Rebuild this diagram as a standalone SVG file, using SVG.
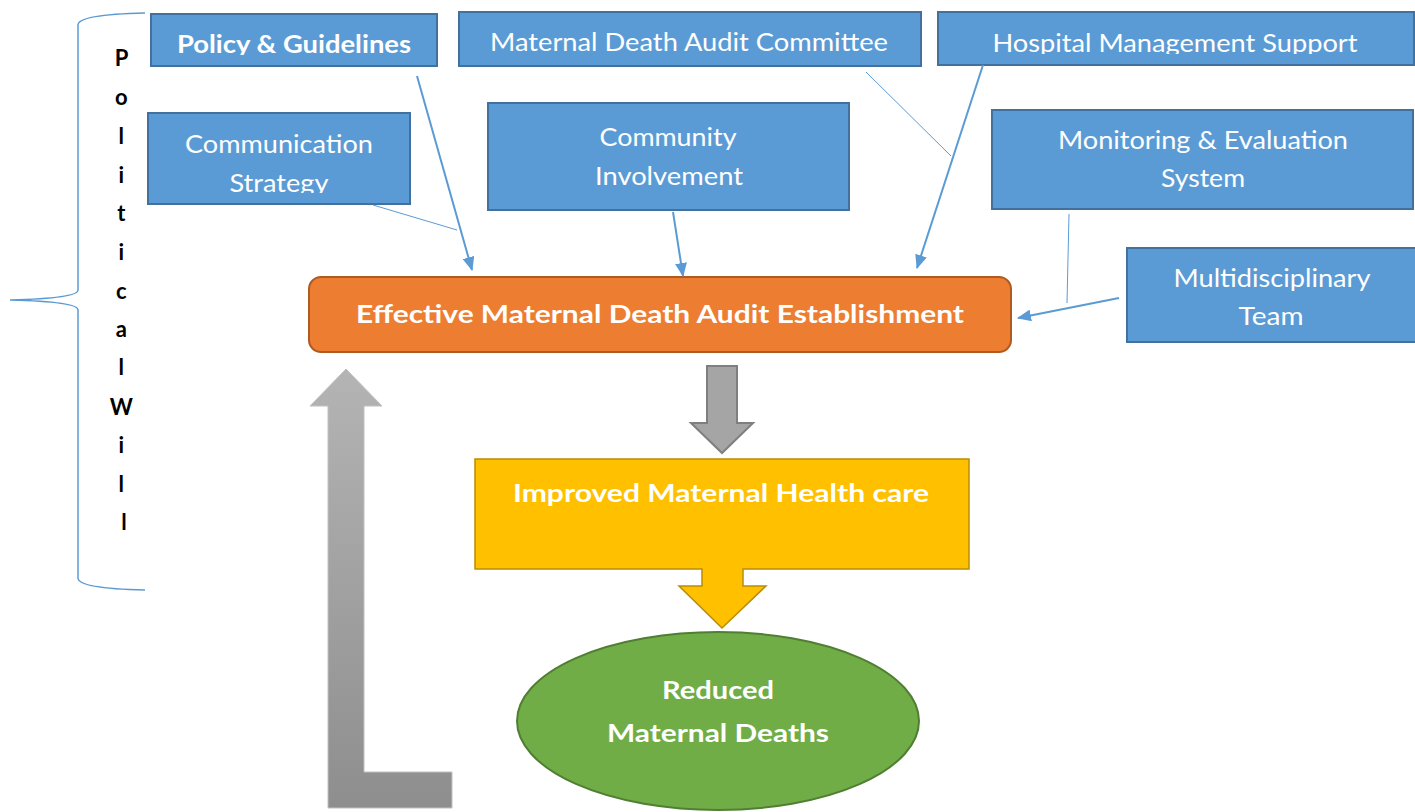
<svg xmlns="http://www.w3.org/2000/svg" width="1415" height="812" viewBox="0 0 1415 812">
  <style>
    .box { fill: #5B9BD5; stroke: #41719C; stroke-width: 2; }
    .lbl { font-family: Lato, "Open Sans", "Liberation Sans", sans-serif; fill: #ffffff; text-anchor: middle; font-size: 25px; }
    .bold { font-weight: bold; }
    .link { stroke: #5B9BD5; stroke-width: 2; fill: none; }
    .thin { stroke: #5B9BD5; stroke-width: 1; fill: none; }
    .side { font-family: Lato, "Open Sans", "Liberation Sans", sans-serif; font-weight: bold; font-size: 22px; fill: #000000; text-anchor: middle; }
  </style>
  <defs>
    <marker id="arrow" markerUnits="userSpaceOnUse" markerWidth="14" markerHeight="12" refX="13" refY="6" orient="auto">
      <path d="M0,0 L14,6 L0,12 Z" fill="#5B9BD5"/>
    </marker>
    <linearGradient id="grey" x1="0" y1="0" x2="0" y2="1">
      <stop offset="0" stop-color="#B4B4B4"/>
      <stop offset="1" stop-color="#8E8E8E"/>
    </linearGradient>
    <clipPath id="clipPolicy"><rect x="151" y="14" width="286" height="41"/></clipPath>
    <clipPath id="clipHospital"><rect x="938" y="12" width="476" height="42"/></clipPath>
    <clipPath id="clipComm"><rect x="148" y="113" width="262" height="80"/></clipPath>
  </defs>

  <rect width="1415" height="812" fill="#ffffff"/>

  <!-- Political will brace and vertical caption -->
  <g id="political-will">
    <path d="M145,13 C100,14 78,18 78,25 V290 C78,296 50,299 10,300 C50,301 78,304 78,310 V578 C78,585 100,589 145,590" fill="none" stroke="#5B9BD5" stroke-width="1.5"/>
    <text class="side">
      <tspan x="124" y="66">P</tspan>
      <tspan x="124" y="105">o</tspan>
      <tspan x="124" y="144">l</tspan>
      <tspan x="124" y="183">i</tspan>
      <tspan x="124" y="221">t</tspan>
      <tspan x="124" y="260">i</tspan>
      <tspan x="124" y="299">c</tspan>
      <tspan x="124" y="337">a</tspan>
      <tspan x="124" y="375">l</tspan>
      <tspan x="124" y="415">W</tspan>
      <tspan x="124" y="453">i</tspan>
      <tspan x="124" y="492">l</tspan>
      <tspan x="124" y="530">l</tspan>
    </text>
  </g>

  <!-- Contributing factors -->
  <g id="policy">
    <rect class="box" x="151" y="14" width="286" height="52"/>
    <text class="lbl bold" x="294" y="53" font-size="26" textLength="234" lengthAdjust="spacingAndGlyphs" clip-path="url(#clipPolicy)">Policy &amp; Guidelines</text>
  </g>
  <g id="committee">
    <rect class="box" x="459" y="12" width="462" height="54"/>
    <text class="lbl" x="689" y="51" textLength="398" lengthAdjust="spacingAndGlyphs">Maternal Death Audit Committee</text>
  </g>
  <g id="hospital">
    <rect class="box" x="938" y="12" width="476" height="53"/>
    <text class="lbl" x="1175" y="52" textLength="365" lengthAdjust="spacingAndGlyphs" clip-path="url(#clipHospital)">Hospital Management Support</text>
  </g>
  <g id="communication">
    <rect class="box" x="148" y="113" width="262" height="91"/>
    <g clip-path="url(#clipComm)">
      <text class="lbl" x="279" y="153" textLength="188" lengthAdjust="spacingAndGlyphs">Communication</text>
      <text class="lbl" x="279" y="192" textLength="99" lengthAdjust="spacingAndGlyphs">Strategy</text>
    </g>
  </g>
  <g id="community">
    <rect class="box" x="488" y="103" width="361" height="107"/>
    <text class="lbl" x="668" y="146" textLength="137" lengthAdjust="spacingAndGlyphs">Community</text>
    <text class="lbl" x="669" y="185" textLength="148" lengthAdjust="spacingAndGlyphs">Involvement</text>
  </g>
  <g id="monitoring">
    <rect class="box" x="992" y="110" width="421" height="99"/>
    <text class="lbl" x="1203" y="149" textLength="290" lengthAdjust="spacingAndGlyphs">Monitoring &amp; Evaluation</text>
    <text class="lbl" x="1203" y="187" textLength="84" lengthAdjust="spacingAndGlyphs">System</text>
  </g>
  <g id="team">
    <rect class="box" x="1127" y="248" width="292" height="94"/>
    <text class="lbl" x="1272" y="287" textLength="197" lengthAdjust="spacingAndGlyphs">Multidisciplinary</text>
    <text class="lbl" x="1271" y="325" textLength="65" lengthAdjust="spacingAndGlyphs">Team</text>
  </g>

  <!-- Central outcome chain -->
  <g id="audit">
    <rect x="309" y="277" width="702" height="75" rx="12" fill="#ED7D31" stroke="#AE5A21" stroke-width="2"/>
    <text class="lbl bold" x="660" y="323" font-size="28" textLength="608" lengthAdjust="spacingAndGlyphs">Effective Maternal Death Audit Establishment</text>
  </g>
  <g id="care">
    <path d="M475,459 H969 V569 H743 V586 H766 L722,628 L679,586 H702 V569 H475 Z" fill="#FFC000" stroke="#BC8C00" stroke-width="1.5"/>
    <text class="lbl bold" x="721" y="502" font-size="29" textLength="416" lengthAdjust="spacingAndGlyphs">Improved Maternal Health care</text>
  </g>
  <g id="deaths">
    <ellipse cx="718" cy="721" rx="201" ry="89" fill="#70AD47" stroke="#507E32" stroke-width="2"/>
    <text class="lbl bold" x="718" y="699" font-size="27" textLength="112" lengthAdjust="spacingAndGlyphs">Reduced</text>
    <text class="lbl bold" x="718" y="742" font-size="27" textLength="222" lengthAdjust="spacingAndGlyphs">Maternal Deaths</text>
  </g>

  <!-- Connectors -->
  <g id="connectors">
    <path class="link" d="M417,76 L472,270" marker-end="url(#arrow)"/>
    <path class="thin" d="M373,205 L457,230"/>
    <path class="link" d="M673,212 L683,276" marker-end="url(#arrow)"/>
    <path class="thin" d="M866,72 L951,156"/>
    <path class="link" d="M983,65 L917,268" marker-end="url(#arrow)"/>
    <path class="thin" d="M1069,214 L1067,303"/>
    <path class="link" d="M1119,298 L1018,318" marker-end="url(#arrow)"/>
    <path id="flow-down" d="M707,366 H737 V423 H753 L722,453 L691,423 H707 Z" fill="#A5A5A5" stroke="#7F7F7F" stroke-width="2"/>
    <path id="feedback" d="M346,369 L382,406 H364 V772 H452 V808 H328 V406 H310 Z" fill="url(#grey)" stroke="#C0C0C0" stroke-width="1"/>
  </g>
</svg>
